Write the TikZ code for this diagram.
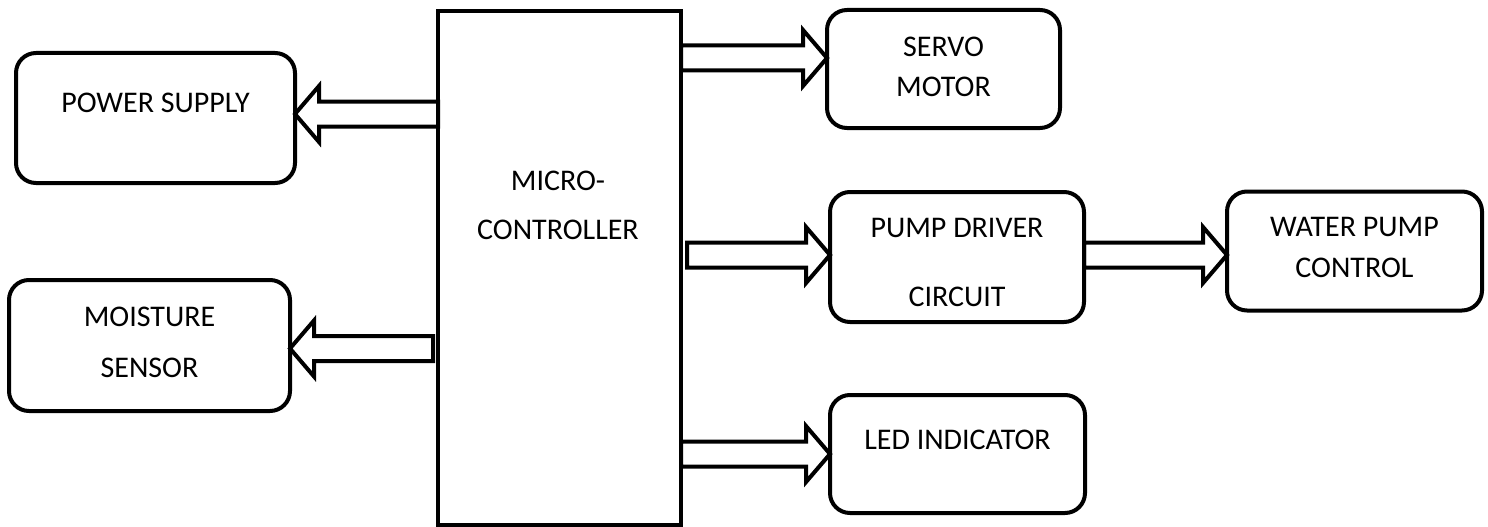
\documentclass[tikz,border=0pt]{standalone}
\usepackage{fontspec}
\setmainfont{Carlito}
\usetikzlibrary{calc}
\tikzset{
  blk/.style={draw, line width=4pt, rounded corners=20pt, outer sep=0pt, inner sep=0pt},
  ctrl/.style={draw, line width=4pt, outer sep=0pt, inner sep=0pt},
  lbl/.style={font=\fontsize{30}{36}\selectfont, align=center, inner sep=0pt},
  fat/.style={draw, line width=4pt, line join=miter}
}
% hollow block arrow from tail point to tip point
\newcommand{\fatarrow}[2]{%
  \draw[fat] let \p1=(#1), \p2=(#2), \n1={sign(\x2-\x1)} in
    (\x1,\y1+12.5pt) -- (\x2-\n1*24pt,\y1+12.5pt) -- (\x2-\n1*24pt,\y1+28pt)
    -- (\x2,\y1) -- (\x2-\n1*24pt,\y1-28pt) -- (\x2-\n1*24pt,\y1-12.5pt)
    -- (\x1,\y1-12.5pt) -- cycle;}

\begin{document}
\begin{tikzpicture}[x=1pt, y=-1pt]
\useasboundingbox (0,0) rectangle (1488,527);

% boxes
\node[ctrl, minimum width=243pt, minimum height=514pt] (mc) at (559.5,268) {};
\node[blk, minimum width=279pt, minimum height=130pt] (ps) at (155.5,118) {};
\node[blk, minimum width=281pt, minimum height=131pt] (ms) at (149.5,345.5) {};
\node[blk, minimum width=233pt, minimum height=118pt] (sv) at (943.5,69) {};
\node[blk, minimum width=254pt, minimum height=130pt] (pd) at (957,257) {};
\node[blk, minimum width=255pt, minimum height=119pt] (wp) at (1354.5,251) {};
\node[blk, minimum width=255pt, minimum height=118pt] (led) at (957.5,454) {};

% texts
\node[lbl] (mctext) at ([xshift=-1.5pt,yshift=62.5pt]mc.center) {MICRO-\\[13pt]CONTROLLER};
\node[lbl] (pstext) at ([yshift=15pt]ps.center) {POWER SUPPLY};
\node[lbl] (mstext) at ([yshift=3pt]ms.center) {MOISTURE\\[15pt]SENSOR};
\node[lbl] (svtext) at ([yshift=2pt]sv.center) {SERVO\\[4pt]MOTOR};
\node[lbl] (pdtext) at ([yshift=-5.5pt]pd.center) {PUMP DRIVER\\[33pt]CIRCUIT};
\node[lbl] (wptext) at ([yshift=3.5pt]wp.center) {WATER PUMP\\[5pt]CONTROL};
\node[lbl] (ledtext) at ([yshift=14pt]led.center) {LED INDICATOR};

% arrow ends
\coordinate (psin) at ([yshift=4pt]ps.east);
\coordinate (msin) at ([yshift=-3pt]ms.east);
\coordinate (svin) at ([yshift=11pt]sv.west);
\coordinate (pdin) at ([yshift=2pt]pd.west);
\coordinate (wpin) at ([yshift=-4pt]wp.west);

% arrows
\fatarrow{mc.west |- psin}{psin}
\fatarrow{[xshift=-5pt]mc.west |- msin}{msin}
\fatarrow{mc.east |- svin}{svin}
\fatarrow{[xshift=6pt]mc.east |- pdin}{pdin}
\fatarrow{mc.east |- led.west}{led.west}
\fatarrow{pd.east |- wpin}{wpin}
\end{tikzpicture}
\end{document}
